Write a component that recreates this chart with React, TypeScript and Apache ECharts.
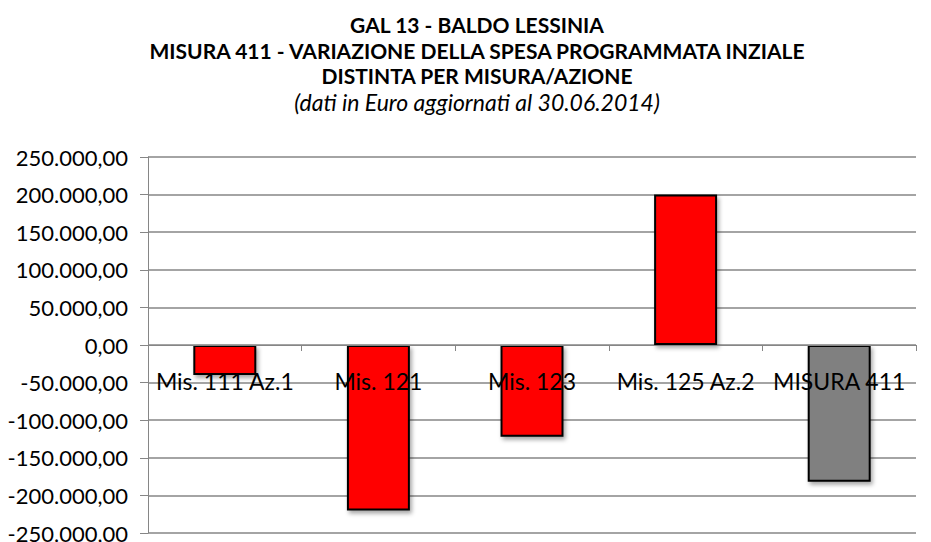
import React, { useEffect, useRef } from "react";
import * as echarts from "echarts";

const categories = ["Mis. 111 Az.1", "Mis. 121", "Mis. 123", "Mis. 125 Az.2", "MISURA 411"];
const values = [-40000, -220000, -122000, 200000, -182000];
const barColors = ["#FF0000", "#FF0000", "#FF0000", "#FF0000", "#808080"];
const titleLines = [
  "GAL 13 - BALDO LESSINIA",
  "MISURA 411 - VARIAZIONE DELLA SPESA PROGRAMMATA INZIALE",
  "DISTINTA PER MISURA/AZIONE",
];
const subtitle = "(dati in Euro aggiornati al 30.06.2014)";

const FONT = "Lato, 'Open Sans', sans-serif";
const Y_MIN = -250000;
const Y_MAX = 250000;
const GRID_TOP = 157;
const GRID_BOTTOM = 9;
const CHART_H = 542;

function fmt(v: number): string {
  const neg = v < 0;
  const a = Math.abs(v);
  const int = Math.floor(a).toString().replace(/\B(?=(\d{3})+(?!\d))/g, ".");
  return (neg ? "-" : "") + int + ",00";
}

export default function App() {
  const ref = useRef<HTMLDivElement>(null);
  useEffect(() => {
    if (!ref.current) return;
    const chart = echarts.init(ref.current, undefined, { renderer: "svg" });
    const plotH = CHART_H - GRID_TOP - GRID_BOTTOM;
    const zeroOffset = -plotH * (0 - Y_MIN) / (Y_MAX - Y_MIN);
    chart.setOption({
      animation: false,
      backgroundColor: "#FFFFFF",
      title: {
        left: 472,
        textAlign: "center",
        top: 7,
        text: titleLines.join("\n") + "\n{i|" + subtitle + "}",
        textStyle: {
          fontFamily: FONT,
          fontWeight: "bold",
          fontSize: 21,
          lineHeight: 25.5,
          color: "#000",
          rich: {
            i: {
              fontFamily: FONT,
              fontStyle: "italic",
              fontWeight: "normal",
              fontSize: 23,
              lineHeight: 27,
              color: "#000",
            },
          },
        },
      },
      grid: { left: 148, right: 15, top: GRID_TOP, bottom: GRID_BOTTOM, containLabel: false, outerBoundsMode: "none" },
      xAxis: {
        type: "category",
        data: categories,
        z: 10,
        offset: zeroOffset,
        axisLine: { onZero: false, lineStyle: { color: "#868686", width: 1 } },
        axisTick: { show: true, interval: 0, length: 6, lineStyle: { color: "#868686" } },
        axisLabel: {
          interval: 0,
          margin: 24,
          fontFamily: FONT,
          fontSize: 23,
          color: "#000",
        },
        splitLine: { show: false },
      },
      yAxis: {
        type: "value",
        min: Y_MIN,
        max: Y_MAX,
        interval: 50000,
        axisLine: { show: true, lineStyle: { color: "#868686", width: 1 } },
        axisTick: { show: true, length: 8, lineStyle: { color: "#868686" } },
        axisLabel: {
          margin: 20,
          fontFamily: FONT,
          fontSize: 22,
          color: "#000",
          formatter: (v: number) => fmt(v),
        },
        splitLine: { show: true, lineStyle: { color: "#868686", width: 1.5 } },
      },
      series: [
        {
          type: "bar",
          barWidth: "41%",
          data: values.map((v, i) => ({
            value: v,
            itemStyle: { color: barColors[i] },
          })),
          itemStyle: {
            borderColor: "#000",
            borderWidth: 2,
            shadowBlur: 4,
            shadowOffsetX: 2,
            shadowOffsetY: 3,
            shadowColor: "rgba(0,0,0,0.35)",
          },
        },
      ],
    });
    return () => chart.dispose();
  }, []);
  return <div ref={ref} style={{ width: 931, height: 542, position: "absolute", left: 0, top: 0 }} />;
}
